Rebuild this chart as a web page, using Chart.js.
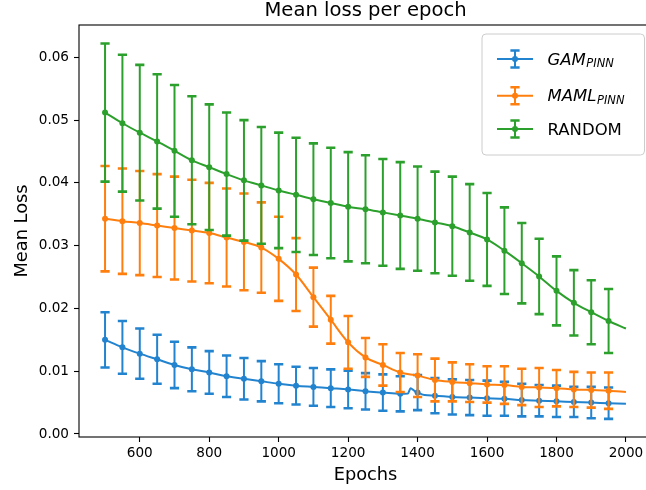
<!DOCTYPE html>
<html>
<head>
    <title>Mean loss per epoch</title>
    <script src="https://cdn.jsdelivr.net/npm/chart.js"></script>
    <style>
        html, body { margin: 0; padding: 0; background: #fff; overflow: hidden; }
        #wrap { width: 660px; height: 490px; }
    </style>
</head>
<body>
<div id="wrap"><canvas id="myChart"></canvas></div>
<script>
    // epochs where the markers / error bars are
    const epochs = [500, 550, 600, 650, 700, 750, 800, 850, 900, 950,
        1000, 1050, 1100, 1150, 1200, 1250, 1300, 1350, 1400, 1450,
        1500, 1550, 1600, 1650, 1700, 1750, 1800, 1850, 1900, 1950];

    const gamMean = [0.0150, 0.0138, 0.0128, 0.0119, 0.0110, 0.0103, 0.0098, 0.0092, 0.0088, 0.0084,
        0.0080, 0.0077, 0.0075, 0.0073, 0.0071, 0.0068, 0.0066, 0.0064, 0.0066, 0.0061,
        0.0059, 0.0058, 0.0057, 0.0056, 0.0054, 0.0053, 0.0052, 0.0051, 0.0050, 0.0049];
    const gamStd = [0.0044, 0.0042, 0.0040, 0.0039, 0.0037, 0.0035, 0.0034, 0.0033, 0.0033, 0.0032,
        0.0031, 0.0030, 0.0030, 0.0030, 0.0030, 0.0029, 0.0029, 0.0028, 0.0028, 0.0028,
        0.0028, 0.0028, 0.0028, 0.0027, 0.0026, 0.0025, 0.0025, 0.0024, 0.0025, 0.0025];

    const mamlMean = [0.0343, 0.0339, 0.0336, 0.0332, 0.0328, 0.0324, 0.0320, 0.0313, 0.0306, 0.0297,
        0.0279, 0.0254, 0.0218, 0.0182, 0.0146, 0.0122, 0.0110, 0.0098, 0.0093, 0.0086,
        0.0083, 0.0081, 0.0079, 0.0078, 0.0075, 0.0074, 0.0073, 0.0071, 0.0070, 0.0069];
    const mamlStd = [0.0084, 0.0084, 0.0083, 0.0082, 0.0082, 0.0081, 0.0080, 0.0078, 0.0077, 0.0072,
        0.0067, 0.0058, 0.0047, 0.0038, 0.0042, 0.0031, 0.0033, 0.0031, 0.0034, 0.0034,
        0.0031, 0.0030, 0.0029, 0.0030, 0.0029, 0.0031, 0.0029, 0.0028, 0.0028, 0.0029];

    const randomMean = [0.0512, 0.0495, 0.0480, 0.0466, 0.0451, 0.0436, 0.0425, 0.0414, 0.0404, 0.0396,
        0.0388, 0.0381, 0.0374, 0.0368, 0.0362, 0.0358, 0.0353, 0.0348, 0.0343, 0.0337,
        0.0331, 0.0321, 0.0310, 0.0292, 0.0272, 0.0251, 0.0228, 0.0209, 0.0194, 0.0180];
    const randomStd = [0.0110, 0.0109, 0.0108, 0.0107, 0.0105, 0.0102, 0.0100, 0.0098, 0.0096, 0.0093,
        0.0092, 0.0091, 0.0089, 0.0088, 0.0087, 0.0086, 0.0085, 0.0085, 0.0083, 0.0081,
        0.0079, 0.0077, 0.0074, 0.0069, 0.0064, 0.0060, 0.0055, 0.0052, 0.0051, 0.0051];

    // the lines go on to the last epoch without a marker
    const lastEpoch = 2000;
    const gamLast = 0.0048;
    const mamlLast = 0.0067;
    const randomLast = 0.0168;

    // small jump in the GAM curve near epoch 1380
    const gamBumpEpochs = [1372, 1380, 1388, 1394, 1420];
    const gamBumpValues = [0.00645, 0.0073, 0.0070, 0.0067, 0.0062];

    const seriesNames = ['GAM', 'MAML', 'RANDOM'];
    const seriesSubs = ['PINN', 'PINN', ''];
    const colors = ['#2283cf', '#ff7f0e', '#2ca02c'];

    const xTicks = [600, 800, 1000, 1200, 1400, 1600, 1800, 2000];
    const yTicks = [0, 0.01, 0.02, 0.03, 0.04, 0.05, 0.06];

    const FONT = "'DejaVu Sans', sans-serif";

    function linePoints(mean, last, extraX, extraY) {
        let pts = epochs.map((e, i) => ({ x: e, y: mean[i], m: true }));
        pts.push({ x: lastEpoch, y: last, m: false });
        (extraX || []).forEach((e, i) => pts.push({ x: e, y: extraY[i], m: false }));
        pts.sort((a, b) => a.x - b.x);
        return pts;
    }

    function makeSet(i, mean, std, last, order, ex, ey) {
        return {
            label: seriesNames[i],
            data: linePoints(mean, last, ex, ey),
            errMean: mean,
            errStd: std,
            borderColor: colors[i],
            backgroundColor: colors[i],
            borderWidth: 2,
            cubicInterpolationMode: 'monotone',
            pointRadius: ctx => (ctx.raw && ctx.raw.m) ? 3 : 0,
            pointBorderWidth: 0,
            pointBackgroundColor: colors[i],
            order: order
        };
    }

    // draws the error bars right after each line so the draw order matches
    const errorBars = {
        id: 'errorBars',
        afterDatasetDraw(chart, args) {
            const ds = chart.data.datasets[args.index];
            if (!ds.errMean) return;
            const ctx = chart.ctx;
            const xs = chart.scales.x, ys = chart.scales.y;
            ctx.save();
            ctx.strokeStyle = ds.borderColor;
            epochs.forEach((e, i) => {
                const px = xs.getPixelForValue(e);
                const top = ys.getPixelForValue(ds.errMean[i] + ds.errStd[i]);
                const bot = ys.getPixelForValue(ds.errMean[i] - ds.errStd[i]);
                ctx.lineWidth = 2;
                ctx.beginPath();
                ctx.moveTo(px, top);
                ctx.lineTo(px, bot);
                ctx.stroke();
                ctx.lineWidth = 2.6;
                ctx.beginPath();
                ctx.moveTo(px - 4.6, top);
                ctx.lineTo(px + 4.6, top);
                ctx.moveTo(px - 4.6, bot);
                ctx.lineTo(px + 4.6, bot);
                ctx.stroke();
            });
            ctx.restore();
        }
    };

    // axes frame and the matplotlib-like legend box
    const frameAndLegend = {
        id: 'frameAndLegend',
        afterDraw(chart) {
            const ctx = chart.ctx;
            const ca = chart.chartArea;
            ctx.save();
            ctx.strokeStyle = '#000';
            ctx.lineWidth = 1.1;
            ctx.strokeRect(ca.left, ca.top, ca.right - ca.left, ca.bottom - ca.top);

            const w = 162.5, h = 121;
            const left = ca.right - 7.5 - w;
            const top = ca.top + 9;
            ctx.beginPath();
            ctx.roundRect(left, top, w, h, 4);
            ctx.fillStyle = 'rgba(255,255,255,0.8)';
            ctx.fill();
            ctx.strokeStyle = '#cccccc';
            ctx.lineWidth = 1;
            ctx.stroke();

            const rows = [25, 61.7, 95];
            seriesNames.forEach((name, i) => {
                const y = top + rows[i];
                const cx = left + 33;
                ctx.strokeStyle = colors[i];
                ctx.fillStyle = colors[i];
                ctx.lineWidth = 2;
                ctx.beginPath();
                ctx.moveTo(left + 15, y);
                ctx.lineTo(left + 51, y);
                ctx.moveTo(cx, y - 8.5);
                ctx.lineTo(cx, y + 8.5);
                ctx.stroke();
                ctx.lineWidth = 2.6;
                ctx.beginPath();
                ctx.moveTo(cx - 4.6, y - 8.5);
                ctx.lineTo(cx + 4.6, y - 8.5);
                ctx.moveTo(cx - 4.6, y + 8.5);
                ctx.lineTo(cx + 4.6, y + 8.5);
                ctx.stroke();
                ctx.beginPath();
                ctx.arc(cx, y, 3, 0, Math.PI * 2);
                ctx.fill();

                const tx = left + 65.5, ty = y + 5.5;
                const italic = seriesSubs[i] ? 'italic ' : '';
                ctx.fillStyle = '#000';
                ctx.textBaseline = 'alphabetic';
                ctx.textAlign = 'left';
                ctx.font = italic + '16.5px ' + FONT;
                ctx.fillText(name, tx, ty);
                if (seriesSubs[i]) {
                    const mw = ctx.measureText(name).width;
                    ctx.font = italic + '11.5px ' + FONT;
                    ctx.fillText(seriesSubs[i], tx + mw + 0.5, ty + 2.4);
                }
            });
            ctx.restore();
        }
    };

    const config = {
        type: 'line',
        data: {
            datasets: [
                makeSet(0, gamMean, gamStd, gamLast, 3, gamBumpEpochs, gamBumpValues),
                makeSet(1, mamlMean, mamlStd, mamlLast, 2),
                makeSet(2, randomMean, randomStd, randomLast, 1)
            ]
        },
        options: {
            responsive: true,
            maintainAspectRatio: false,
            animation: false,
            layout: { padding: { left: 0, right: 8, top: 0, bottom: 0 } },
            plugins: {
                legend: { display: false },
                tooltip: { enabled: false },
                title: {
                    display: true,
                    text: 'Mean loss per epoch',
                    fullSize: false,
                    color: '#000',
                    font: { family: FONT, size: 19.6, weight: 'normal', lineHeight: 1 },
                    padding: { top: 1, bottom: 4.4 }
                }
            },
            scales: {
                x: {
                    type: 'linear',
                    min: 425,
                    max: 2075,
                    afterBuildTicks: s => { s.ticks = xTicks.map(v => ({ value: v })); },
                    afterFit: s => { s.height = 53; },
                    ticks: {
                        color: '#000',
                        font: { family: FONT, size: 13.6 },
                        padding: 3,
                        maxRotation: 0,
                        autoSkip: false,
                        callback: v => String(v)
                    },
                    grid: { drawOnChartArea: false, drawTicks: true, tickLength: 5, tickColor: '#000', tickWidth: 1.1 },
                    border: { display: false },
                    title: {
                        display: true,
                        text: 'Epochs',
                        color: '#000',
                        font: { family: FONT, size: 17.8 },
                        padding: { top: 0, bottom: 3.5 }
                    }
                },
                y: {
                    min: -0.00048,
                    max: 0.06515,
                    afterBuildTicks: s => { s.ticks = yTicks.map(v => ({ value: v })); },
                    afterFit: s => { s.width = 79; },
                    ticks: {
                        color: '#000',
                        font: { family: FONT, size: 13.6 },
                        padding: 5,
                        callback: v => v.toFixed(2)
                    },
                    grid: { drawOnChartArea: false, drawTicks: true, tickLength: 5, tickColor: '#000', tickWidth: 1.1 },
                    border: { display: false },
                    title: {
                        display: true,
                        text: 'Mean Loss',
                        color: '#000',
                        font: { family: FONT, size: 17.8 },
                        padding: { top: 11.5, bottom: 0 }
                    }
                }
            }
        },
        plugins: [errorBars, frameAndLegend]
    };

    var myChart = new Chart(document.getElementById('myChart'), config);
</script>
</body>
</html>
